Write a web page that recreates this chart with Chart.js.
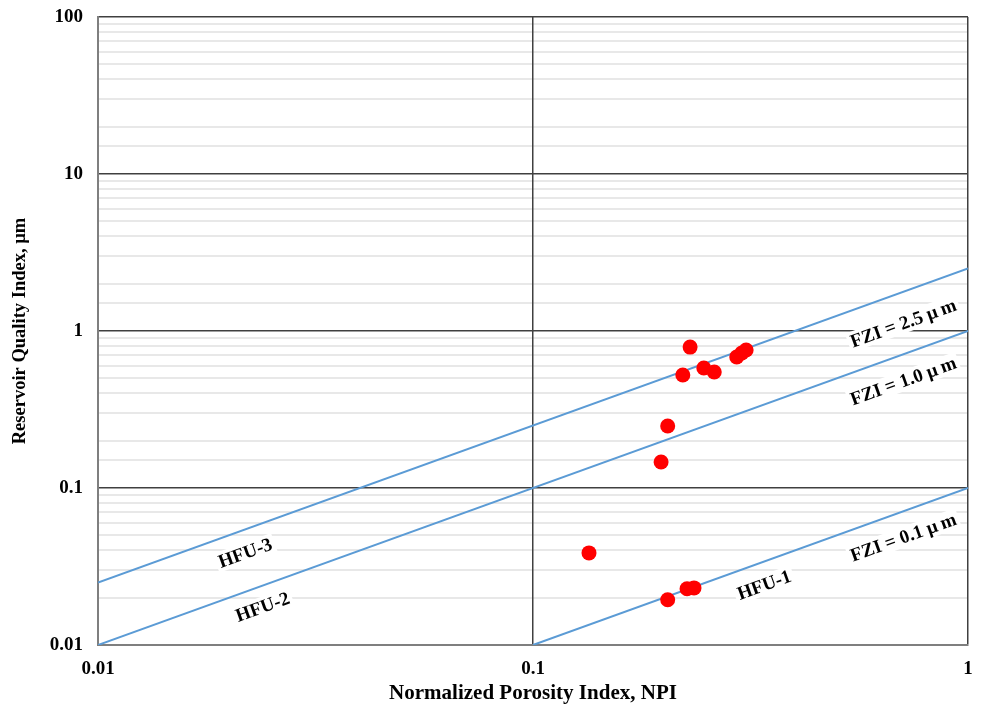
<!DOCTYPE html>
<html>
<head>
<meta charset="utf-8">
<script src="https://cdn.jsdelivr.net/npm/chart.js@4.4.0/dist/chart.umd.min.js"></script>
<style>
html,body{margin:0;padding:0;background:#fff;}
#wrap{width:988px;height:708px;}
</style>
</head>
<body>
<div id="wrap"><canvas id="myChart"></canvas></div>
<script>
// measured samples (NPI vs RQI)
const npiValues = [0.2297, 0.221, 0.247, 0.261, 0.294, 0.302, 0.309, 0.204, 0.197, 0.1345, 0.204, 0.226, 0.2345];
const rqiValues = [0.79, 0.525, 0.581, 0.548, 0.683, 0.724, 0.757, 0.248, 0.1465, 0.0386, 0.0194, 0.0228, 0.0231];

// FZI lines, start and end points
const fziNames = ['FZI = 2.5 \u00b5m', 'FZI = 1.0 \u00b5m', 'FZI = 0.1 \u00b5m'];
const fziStart = [[0.01, 0.025], [0.01, 0.01], [0.1, 0.01]];
const fziEnd = [[1, 2.5], [1, 1], [1, 0.1]];

// text labels along the lines (data coords)
const noteTexts = ['FZI = 2.5 \u00b5\u2009m', 'FZI = 1.0 \u00b5\u2009m', 'FZI = 0.1 \u00b5\u2009m', 'HFU-3', 'HFU-2', 'HFU-1'];
const noteX = [0.71, 0.71, 0.71, 0.0218, 0.0239, 0.34];
const noteY = [1.12, 0.48, 0.0485, 0.0386, 0.01746, 0.0241];

const xTickLabels = ['0.01', '0.1', '1'];
const yTickLabels = ['0.01', '0.1', '1', '10', '100'];

const serif = "'Liberation Serif', 'Times New Roman', serif";

function isDecade(v){
	let l = Math.log10(v);
	return Math.abs(l - Math.round(l)) < 1e-6;
}
function decadeLabel(v, list){
	for(let i=0; i<list.length; i++){
		if(Math.abs(Number(list[i]) - v) < 1e-9 * Math.max(1, v)) return list[i];
	}
	return '';
}

let datasets = [];
let pts = [];
for(let i=0; i<npiValues.length; i++){
	pts.push({x: npiValues[i], y: rqiValues[i]});
}
datasets.push({
	label: 'samples',
	data: pts,
	pointRadius: 7.5,
	pointHoverRadius: 7.5,
	pointBackgroundColor: '#ff0000',
	pointBorderColor: '#ff0000',
	pointBorderWidth: 0,
	showLine: false
});
for(let i=0; i<fziNames.length; i++){
	datasets.push({
		label: fziNames[i],
		data: [{x: fziStart[i][0], y: fziStart[i][1]}, {x: fziEnd[i][0], y: fziEnd[i][1]}],
		showLine: true,
		borderColor: '#5b9bd5',
		borderWidth: 2,
		pointRadius: 0
	});
}

const notesPlugin = {
	id: 'notes',
	beforeDatasetsDraw(chart){
		const ctx = chart.ctx;
		const xs = chart.scales.x, ys = chart.scales.y;
		let dx = xs.getPixelForValue(1) - xs.getPixelForValue(0.01);
		let dy = ys.getPixelForValue(1) - ys.getPixelForValue(0.01);
		let ang = Math.atan2(dy, dx);
		ctx.save();
		ctx.font = 'bold 19px ' + serif;
		ctx.textAlign = 'center';
		ctx.textBaseline = 'middle';
		for(let i=0; i<noteTexts.length; i++){
			let px = xs.getPixelForValue(noteX[i]);
			let py = ys.getPixelForValue(noteY[i]);
			ctx.save();
			ctx.translate(px, py);
			ctx.rotate(ang);
			let w = ctx.measureText(noteTexts[i]).width;
			ctx.fillStyle = '#ffffff';
			ctx.fillRect(-w/2 - 3, -10, w + 6, 20);
			ctx.fillStyle = '#000000';
			ctx.fillText(noteTexts[i], 0, 1);
			ctx.restore();
		}
		ctx.restore();
	}
};

var ctx = document.getElementById('myChart');
var myChart = new Chart(ctx, {
	type: 'scatter',
	data: {datasets: datasets},
	plugins: [notesPlugin],
	options: {
		responsive: true,
		maintainAspectRatio: false,
		animation: false,
		layout: {padding: {top: 17, right: 20, left: 0, bottom: 0}},
		plugins: {legend: {display: false}, tooltip: {enabled: false}},
		scales: {
			x: {
				type: 'logarithmic',
				min: 0.01,
				max: 1,
				afterFit: function(s){ s.height = 63; s.paddingLeft = 0; s.paddingRight = 0; },
				border: {color: '#7f7f7f', width: 2},
				grid: {
					z: 0,
					drawTicks: false,
					color: function(c){ return c.tick && isDecade(c.tick.value) ? '#404040' : 'rgba(0,0,0,0)'; },
					lineWidth: 1.5
				},
				ticks: {
					autoSkip: false,
					maxRotation: 0,
					padding: 13,
					color: '#000',
					font: {family: serif, weight: 'bold', size: 19},
					callback: function(v){ return isDecade(v) ? decadeLabel(v, xTickLabels) : ''; }
				},
				title: {
					display: true,
					text: 'Normalized Porosity Index, NPI',
					color: '#000',
					font: {family: serif, weight: 'bold', size: 21},
					padding: {top: 0, bottom: 2}
				}
			},
			y: {
				type: 'logarithmic',
				min: 0.01,
				max: 100,
				afterFit: function(s){ s.width = 98; s.paddingTop = 0; s.paddingBottom = 0; },
				border: {color: '#7f7f7f', width: 2},
				grid: {
					z: -1,
					drawTicks: false,
					color: function(c){ return c.tick && isDecade(c.tick.value) ? '#404040' : '#e8e8e8'; },
					lineWidth: function(c){ return c.tick && isDecade(c.tick.value) ? 1.5 : 2; }
				},
				ticks: {
					autoSkip: false,
					padding: 15,
					color: '#000',
					font: {family: serif, weight: 'bold', size: 19},
					callback: function(v){ return isDecade(v) ? decadeLabel(v, yTickLabels) : ''; }
				},
				title: {
					display: true,
					text: 'Reservoir Quality Index, \u00b5m',
					color: '#000',
					font: {family: serif, weight: 'bold', size: 18.5},
					padding: {top: 9, bottom: 0}
				}
			}
		}
	}
});
</script>
</body>
</html>
